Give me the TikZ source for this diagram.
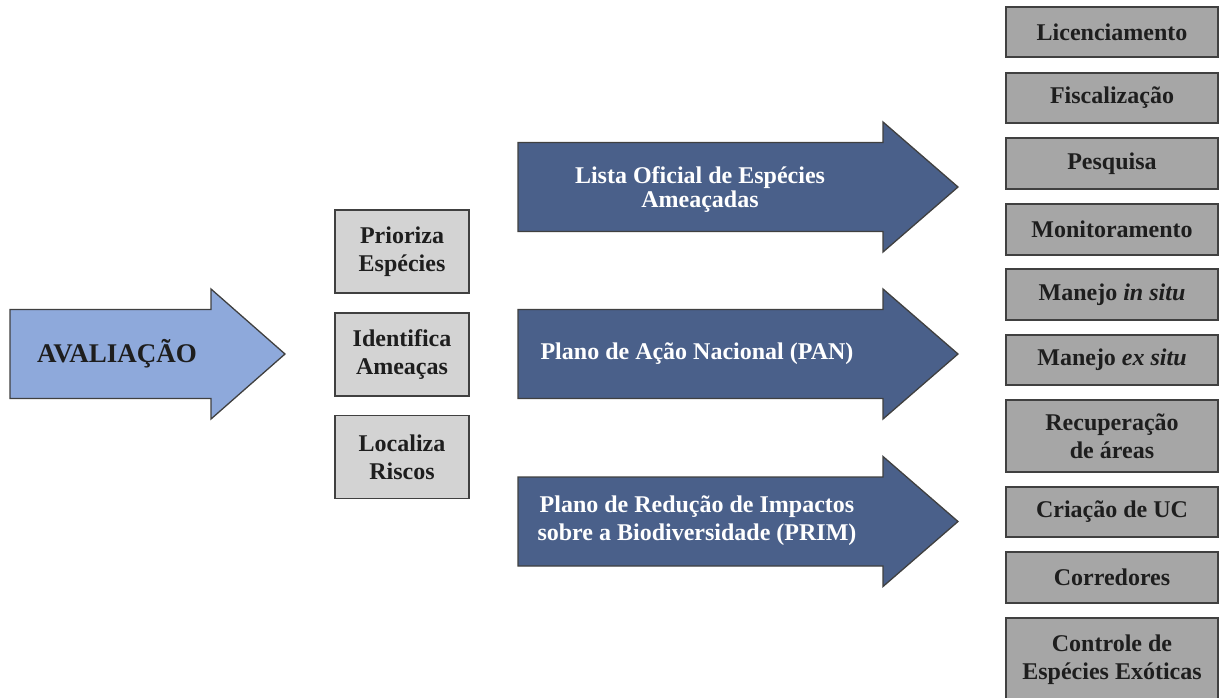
\documentclass[tikz,border=0pt]{standalone}
\usepackage{fontspec}
\setmainfont{Liberation Serif}
\usepackage{tikz}

\definecolor{avblue}{RGB}{142,169,219}
\definecolor{pdblue}{RGB}{74,96,138}
\definecolor{boxlight}{RGB}{211,211,211}
\definecolor{boxdark}{RGB}{166,166,166}
\definecolor{edge}{RGB}{64,64,64}
\definecolor{ink}{RGB}{30,30,30}

\begin{document}
\begin{tikzpicture}[x=1pt,y=-1pt,thick,
        blk/.style={draw=edge, line width=1.3pt, line join=miter},
        lbl/.style={font=\fontsize{24}{28}\selectfont\bfseries, align=center},
        sbox/.style={lbl, draw=edge, fill=boxlight, line width=1.3pt,
                        minimum width=134pt, minimum height=83pt, text=ink},
        rbox/.style={lbl, draw=edge, fill=boxdark, line width=1.3pt,
                        minimum width=212pt, inner sep=0pt, text=ink}]
            \useasboundingbox (0,0) rectangle (1219,697);

            % block arrows
            \foreach \xa/\xb/\xc/\yc/\col in {10/211/285/354/avblue,
                    518/883/958/187/pdblue, 518/883/958/354/pdblue,
                    518/883/958/521.5/pdblue}
                \draw[blk, fill=\col]
                    (\xa,\yc-44.5) -- (\xb,\yc-44.5) -- (\xb,\yc-65)
                    -- (\xc,\yc) -- (\xb,\yc+65) -- (\xb,\yc+44.5)
                    -- (\xa,\yc+44.5) -- cycle;

            \node[lbl, text=ink, font=\fontsize{27}{30}\selectfont\bfseries]
                (aval) at (117,354) {AVALIAÇÃO};
            \node[lbl, text=white, font=\fontsize{24}{24}\selectfont\bfseries]
                (lista) at (700,190) {Lista Oficial de Espécies\\Ameaçadas};
            \node[lbl, text=white] (pan) at (697,354) {Plano de Ação Nacional (PAN)};
            \node[lbl, text=white] (prim) at (697,521)
                {Plano de Redução de Impactos\\sobre a Biodiversidade (PRIM)};

            \node[sbox] (prioriza) at (402,251.5) {Prioriza\\Espécies};
            \node[sbox] (identifica) at (402,354.5) {Identifica\\Ameaças};
            \node[sbox] (localiza) at (402,457) {Localiza\\Riscos};

            \foreach \i/\yc/\h/\txt in {1/32/50/Licenciamento,
                    2/98/50/Fiscalização, 3/163.5/51/Pesquisa,
                    4/229.5/51/Monitoramento, 5/294.5/51/Manejo \textit{in situ},
                    6/360/50/Manejo \textit{ex situ},
                    7/436/72/Recuperação\\de áreas, 8/512/50/Criação de UC,
                    9/577.5/51/Corredores, 10/660/84/Controle de\\Espécies Exóticas}
                \node[rbox, minimum height=\h pt] (r\i) at (1112,\yc) {\txt};
        \end{tikzpicture}
\end{document}
